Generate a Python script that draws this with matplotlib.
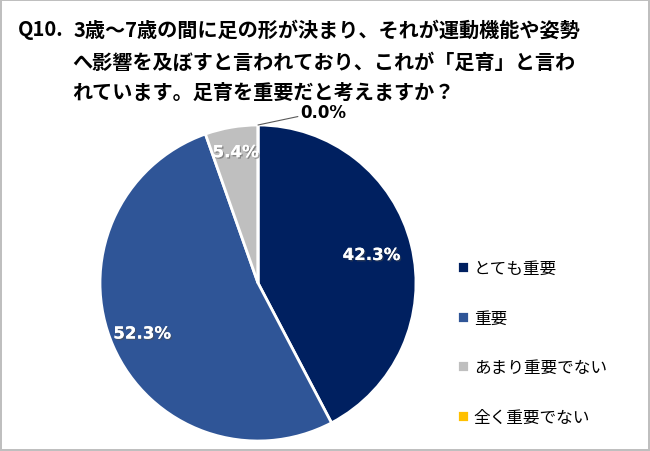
import numpy as np
import matplotlib.pyplot as plt
import matplotlib.patheffects as pe

plt.rcParams['font.family'] = ['Noto Sans CJK JP', 'DejaVu Sans']

# データ
labels = ['とても重要', '重要', 'あまり重要でない', '全く重要でない']
values = [42.3, 52.3, 5.4, 0.0]
colors = ['#002060', '#2F5597', '#BFBFBF', '#FFC000']
title_lines = ['3歳～7歳の間に足の形が決まり、それが運動機能や姿勢',
               'へ影響を及ぼすと言われており、これが「足育」と言わ',
               'れています。足育を重要だと考えますか？']

W, H = 650, 452
fig = plt.figure(figsize=(W / 100, H / 100), dpi=100)
fig.patch.set_edgecolor('#BFBFBF')
fig.patch.set_linewidth(1.5)

# タイトル
tkw = dict(fontsize=14.5, fontweight='bold', va='center')
fig.text(18 / W, 1 - 30 / H, 'Q10.', **tkw)
fig.text(74 / W, 1 - 30 / H, title_lines[0], **tkw)
fig.text(72 / W, 1 - 62 / H, title_lines[1], **tkw)
fig.text(72 / W, 1 - 92 / H, title_lines[2], **tkw)

# 円グラフ
cx, cy, r = 258, 284, 158
ax = fig.add_axes([(cx - r) / W, (H - cy - r) / H, 2 * r / W, 2 * r / H])
wedges, _ = ax.pie(values, colors=colors, startangle=90, counterclock=False,
                   radius=1, wedgeprops=dict(edgecolor='white', linewidth=2))
ax.set_xlim(-1, 1)
ax.set_ylim(-1, 1)
ax.axis('off')

shadow = [pe.withSimplePatchShadow(offset=(1, -1), alpha=0.5), pe.Normal()]
dist = [0.74, 0.80, 0.84]
for w, v, d in zip(wedges[:3], values[:3], dist):
    ang = np.deg2rad((w.theta1 + w.theta2) / 2)
    ax.text(d * np.cos(ang), d * np.sin(ang), f'{v:.1f}%', color='white',
            fontsize=12, fontweight='bold', ha='center', va='center',
            family='DejaVu Sans', path_effects=shadow)

# 0.0% ラベル（引き出し線）
w = wedges[3]
ang = np.deg2rad((w.theta1 + w.theta2) / 2)
ax.annotate(f'{values[3]:.1f}%', xy=(np.cos(ang), np.sin(ang)), xytext=(0.27, 1.08),
            fontsize=12, fontweight='bold', family='DejaVu Sans', ha='left', va='center',
            annotation_clip=False,
            arrowprops=dict(arrowstyle='-', color='#595959', lw=0.8,
                            shrinkA=0, shrinkB=0, relpos=(0, 0.3)))

# 凡例
leg = fig.legend(wedges, labels, loc='upper left', bbox_to_anchor=(442 / W, 1 - 246 / H),
                 frameon=False, fontsize=12, handlelength=0.7, handleheight=0.75,
                 handletextpad=0.3, labelspacing=1.95)

fig.savefig('out.png', dpi=100)
